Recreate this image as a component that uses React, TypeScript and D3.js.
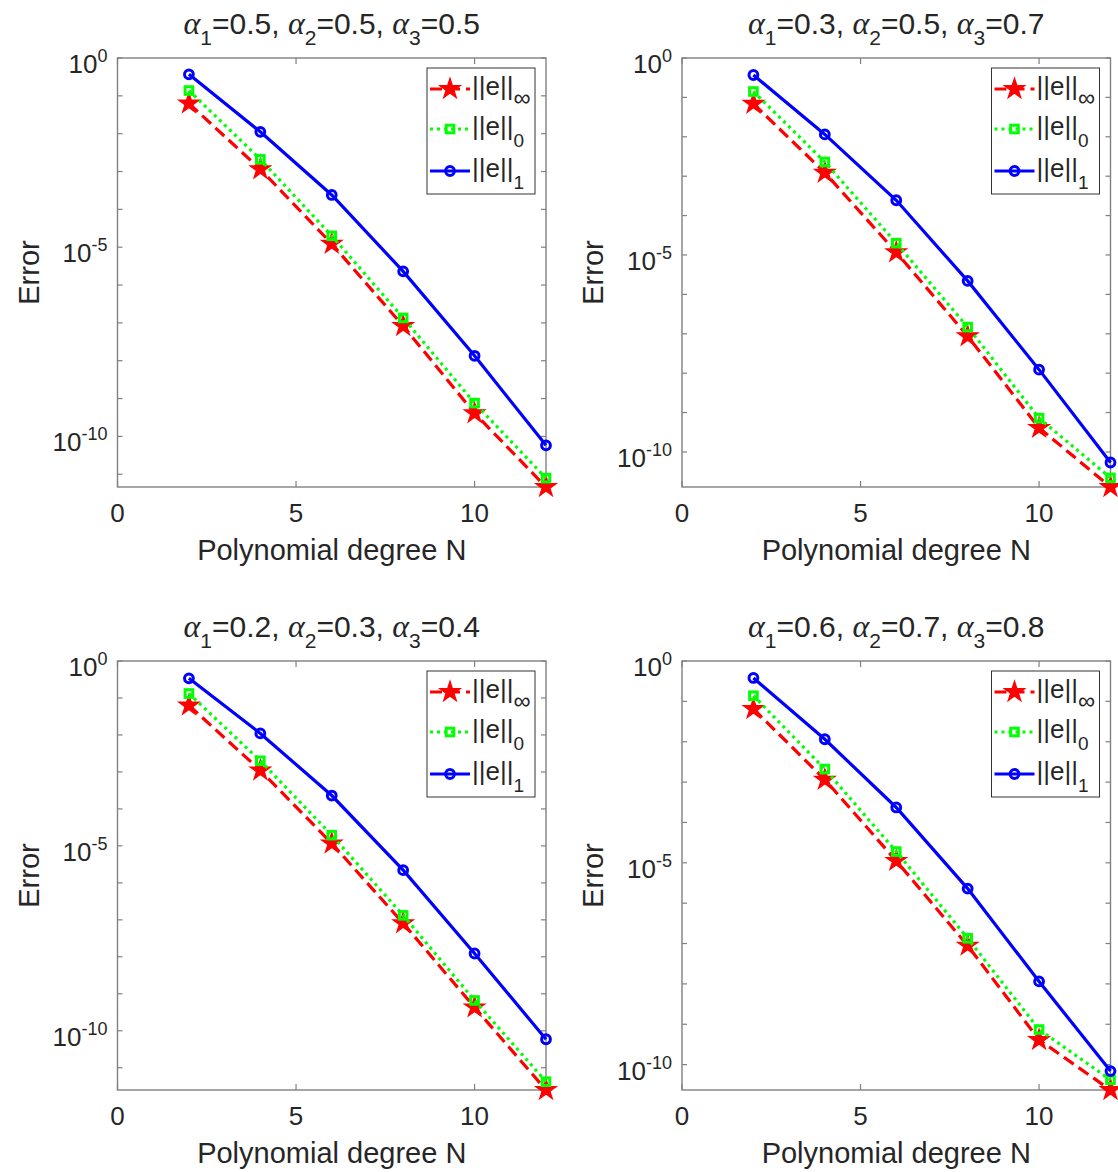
import React from 'react';
import * as d3 from 'd3';

// polynomial degree on the x axis
const degreeN = [2, 4, 6, 8, 10, 12];
const xTicks = [0, 5, 10];
const yTickExps = [0, -5, -10];

// fractional orders shown in each panel title
const panelAlphas = [
  ['0.5', '0.5', '0.5'],
  ['0.3', '0.5', '0.7'],
  ['0.2', '0.3', '0.4'],
  ['0.6', '0.7', '0.8'],
];

// ||e||_inf per panel
const errInf = [
  [6.3e-2, 1.15e-3, 1.23e-5, 8.3e-8, 4.1e-10, 4.6e-12],
  [6.9e-2, 1.23e-3, 1.17e-5, 8.7e-8, 4.1e-10, 1.29e-11],
  [6.3e-2, 1.1e-3, 1.17e-5, 8.1e-8, 4.3e-10, 2.5e-12],
  [6.5e-2, 1.15e-3, 1.12e-5, 8.9e-8, 4.1e-10, 2.35e-11],
];

// ||e||_0 per panel
const errL2 = [
  [1.38e-1, 2.1e-3, 2.0e-5, 1.35e-7, 7.6e-10, 7.9e-12],
  [1.41e-1, 2.3e-3, 2.0e-5, 1.48e-7, 7.2e-10, 2.2e-11],
  [1.32e-1, 2.0e-3, 1.95e-5, 1.32e-7, 6.6e-10, 4.2e-12],
  [1.38e-1, 2.1e-3, 1.9e-5, 1.35e-7, 7.4e-10, 4.2e-11],
];

// ||e||_1 per panel
const errH1 = [
  [3.7e-1, 1.12e-2, 2.4e-4, 2.3e-6, 1.35e-8, 5.8e-11],
  [3.7e-1, 1.15e-2, 2.45e-4, 2.2e-6, 1.23e-8, 5.4e-11],
  [3.4e-1, 1.1e-2, 2.3e-4, 2.2e-6, 1.23e-8, 5.9e-11],
  [3.8e-1, 1.15e-2, 2.35e-4, 2.3e-6, 1.15e-8, 6.9e-11],
];

const normSubs = ['∞', '0', '1'];

const styles = [
  { color: '#ff0000', dash: '12,6', marker: 'star' },
  { color: '#00ff00', dash: '3,4', marker: 'square' },
  { color: '#0000ff', dash: null, marker: 'circle' },
];

const FONT = 'Liberation Sans, Arial, Helvetica, sans-serif';
const TXT = '#262626';
const AX = '#808080';

const colLeft = [117.5, 682];
const plotW = 428.5;
const rowTop = [58, 661];
const plotH = 429;

function Marker({ kind, cx, cy, color }) {
  if (kind === 'star') {
    const p = d3.symbol(d3.symbolStar, 130)();
    return <path d={p} transform={`translate(${cx},${cy})`} fill={color} stroke={color} strokeWidth={1.2} />;
  }
  if (kind === 'square') {
    return <rect x={cx - 3.8} y={cy - 3.8} width={7.6} height={7.6} fill="none" stroke={color} strokeWidth={3} />;
  }
  return <circle cx={cx} cy={cy} r={4.4} fill="none" stroke={color} strokeWidth={3} />;
}

function Panel({ idx, left, top }) {
  const series = [errInf[idx], errL2[idx], errH1[idx]];
  const minV = d3.min(series.flat());
  const x = d3.scaleLinear().domain([0, 12]).range([left, left + plotW]);
  const y = d3.scaleLog().domain([minV, 1]).range([top + plotH, top]);
  const right = left + plotW;
  const bottom = top + plotH;
  const decades = d3.range(0, -13, -1).filter((e) => Math.pow(10, e) >= minV);
  const line = d3
    .line()
    .x((d, i) => x(degreeN[i]))
    .y((d) => y(d));

  const lgW = 108;
  const lgH = 126;
  const lgX = right - 11 - lgW;
  const lgY = top + 10;
  const rowY = [21, 61, 103];

  const cx = (left + right) / 2;

  return (
    <g>
      {/* title */}
      <text x={cx} y={top - 24} textAnchor="middle" fontSize={30} fill={TXT} fontFamily={FONT}>
        {panelAlphas[idx].map((a, i) => (
          <React.Fragment key={i}>
            <tspan fontFamily="Liberation Serif, DejaVu Serif, serif" fontStyle="italic" fontSize={32}>
              α
            </tspan>
            <tspan fontSize={21} dy={11}>
              {i + 1}
            </tspan>
            <tspan dy={-11}>{`=${a}${i < 2 ? ', ' : ''}`}</tspan>
          </React.Fragment>
        ))}
      </text>

      {/* axes box */}
      <rect x={left} y={top} width={plotW} height={plotH} fill="#fff" stroke={AX} strokeWidth={1.4} />

      {/* x ticks */}
      {xTicks.map((t) => (
        <g key={`x${t}`}>
          <line x1={x(t)} x2={x(t)} y1={bottom} y2={bottom - 6} stroke={AX} strokeWidth={1.2} />
          <line x1={x(t)} x2={x(t)} y1={top} y2={top + 6} stroke={AX} strokeWidth={1.2} />
          <text x={x(t)} y={bottom + 35} textAnchor="middle" fontSize={26} fill={TXT} fontFamily={FONT}>
            {t}
          </text>
        </g>
      ))}

      {/* y ticks */}
      {decades.map((e) => (
        <g key={`y${e}`}>
          <line x1={left} x2={left + 5} y1={y(Math.pow(10, e))} y2={y(Math.pow(10, e))} stroke={AX} strokeWidth={1.2} />
          <line x1={right} x2={right - 5} y1={y(Math.pow(10, e))} y2={y(Math.pow(10, e))} stroke={AX} strokeWidth={1.2} />
        </g>
      ))}
      {yTickExps
        .filter((e) => Math.pow(10, e) >= minV)
        .map((e) => (
          <text
            key={`yl${e}`}
            x={left - 10}
            y={y(Math.pow(10, e)) + 15}
            textAnchor="end"
            fontSize={26}
            fill={TXT}
            fontFamily={FONT}
          >
            10
            <tspan fontSize={18} dy={-11}>
              {e === 0 ? '0' : `-${-e}`}
            </tspan>
          </text>
        ))}

      {/* axis labels */}
      <text x={cx} y={bottom + 73} textAnchor="middle" fontSize={29} fill={TXT} fontFamily={FONT}>
        Polynomial degree N
      </text>
      <text
        transform={`translate(${left - 79},${(top + bottom) / 2}) rotate(-90)`}
        textAnchor="middle"
        fontSize={29}
        fill={TXT}
        fontFamily={FONT}
      >
        Error
      </text>

      {/* series */}
      {series.map((vals, s) => (
        <g key={`s${s}`}>
          <path
            d={line(vals)}
            fill="none"
            stroke={styles[s].color}
            strokeWidth={3.2}
            strokeDasharray={styles[s].dash || undefined}
          />
          {vals.map((v, i) => (
            <Marker key={i} kind={styles[s].marker} cx={x(degreeN[i])} cy={y(v)} color={styles[s].color} />
          ))}
        </g>
      ))}

      {/* legend */}
      <rect x={lgX} y={lgY} width={lgW} height={lgH} fill="#fff" stroke="#333" strokeWidth={1} />
      {styles.map((st, s) => (
        <g key={`lg${s}`}>
          <line
            x1={lgX + 3}
            x2={lgX + 43}
            y1={lgY + rowY[s]}
            y2={lgY + rowY[s]}
            stroke={st.color}
            strokeWidth={3.2}
            strokeDasharray={st.dash || undefined}
          />
          <Marker kind={st.marker} cx={lgX + 23} cy={lgY + rowY[s]} color={st.color} />
          <text x={lgX + 45} y={lgY + rowY[s] + 6} fontSize={26} fill={TXT} fontFamily={FONT}>
            ||e||
            <tspan fontSize={s === 0 ? 24 : 19} dy={s === 0 ? 11 : 12}>
              {normSubs[s]}
            </tspan>
          </text>
        </g>
      ))}
    </g>
  );
}

export default function App() {
  return (
    <div style={{ position: 'absolute', left: 0, top: 0 }}>
      <svg width={1118} height={1172} style={{ display: 'block', background: '#fff' }}>
        {[0, 1, 2, 3].map((i) => (
          <Panel key={i} idx={i} left={colLeft[i % 2]} top={rowTop[Math.floor(i / 2)]} />
        ))}
      </svg>
    </div>
  );
}
